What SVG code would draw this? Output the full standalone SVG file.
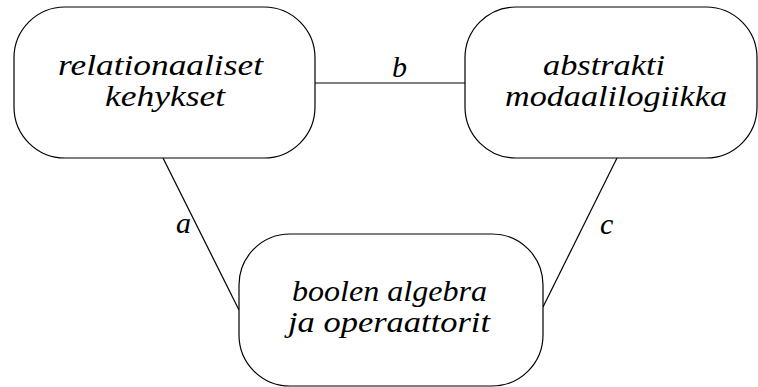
<svg xmlns="http://www.w3.org/2000/svg" width="758" height="387" viewBox="0 0 758 387">
<style>
.box{fill:#fff;stroke:#000;stroke-width:1.2}
.e{stroke:#000;stroke-width:1.2;fill:none}
</style>
<rect width="758" height="387" fill="#fff"/>
<g id="edges">
<line class="e" x1="315" y1="83" x2="465" y2="83"/>
<line class="e" x1="163" y1="158" x2="239" y2="310"/>
<line class="e" x1="617" y1="158" x2="543" y2="307"/>
<text x="392" y="77" font-family="Liberation Serif" font-style="italic" font-size="30">b</text>
<text x="176" y="233" font-family="Liberation Serif" font-style="italic" font-size="30">a</text>
<text x="600" y="234" font-family="Liberation Serif" font-style="italic" font-size="30">c</text>
</g>
<g id="n1">
<rect class="box" x="14" y="7" width="301" height="151" rx="51" ry="51"/>
<text x="58" y="75" font-family="Liberation Serif" font-style="italic" font-size="30" textLength="205" lengthAdjust="spacingAndGlyphs">relationaaliset</text>
<text x="105" y="106" font-family="Liberation Serif" font-style="italic" font-size="30" textLength="120" lengthAdjust="spacingAndGlyphs">kehykset</text>
</g>
<g id="n2">
<rect class="box" x="465" y="7" width="292" height="151" rx="51" ry="51"/>
<text x="543" y="75" font-family="Liberation Serif" font-style="italic" font-size="30" textLength="122" lengthAdjust="spacingAndGlyphs">abstrakti</text>
<text x="505" y="106" font-family="Liberation Serif" font-style="italic" font-size="30" textLength="222" lengthAdjust="spacingAndGlyphs">modaalilogiikka</text>
</g>
<g id="n3">
<rect class="box" x="239" y="234" width="304" height="152" rx="51" ry="51"/>
<text x="292" y="301" font-family="Liberation Serif" font-style="italic" font-size="30" textLength="195" lengthAdjust="spacingAndGlyphs">boolen algebra</text>
<text x="288" y="332" font-family="Liberation Serif" font-style="italic" font-size="30" textLength="202" lengthAdjust="spacingAndGlyphs">ja operaattorit</text>
</g>
</svg>
